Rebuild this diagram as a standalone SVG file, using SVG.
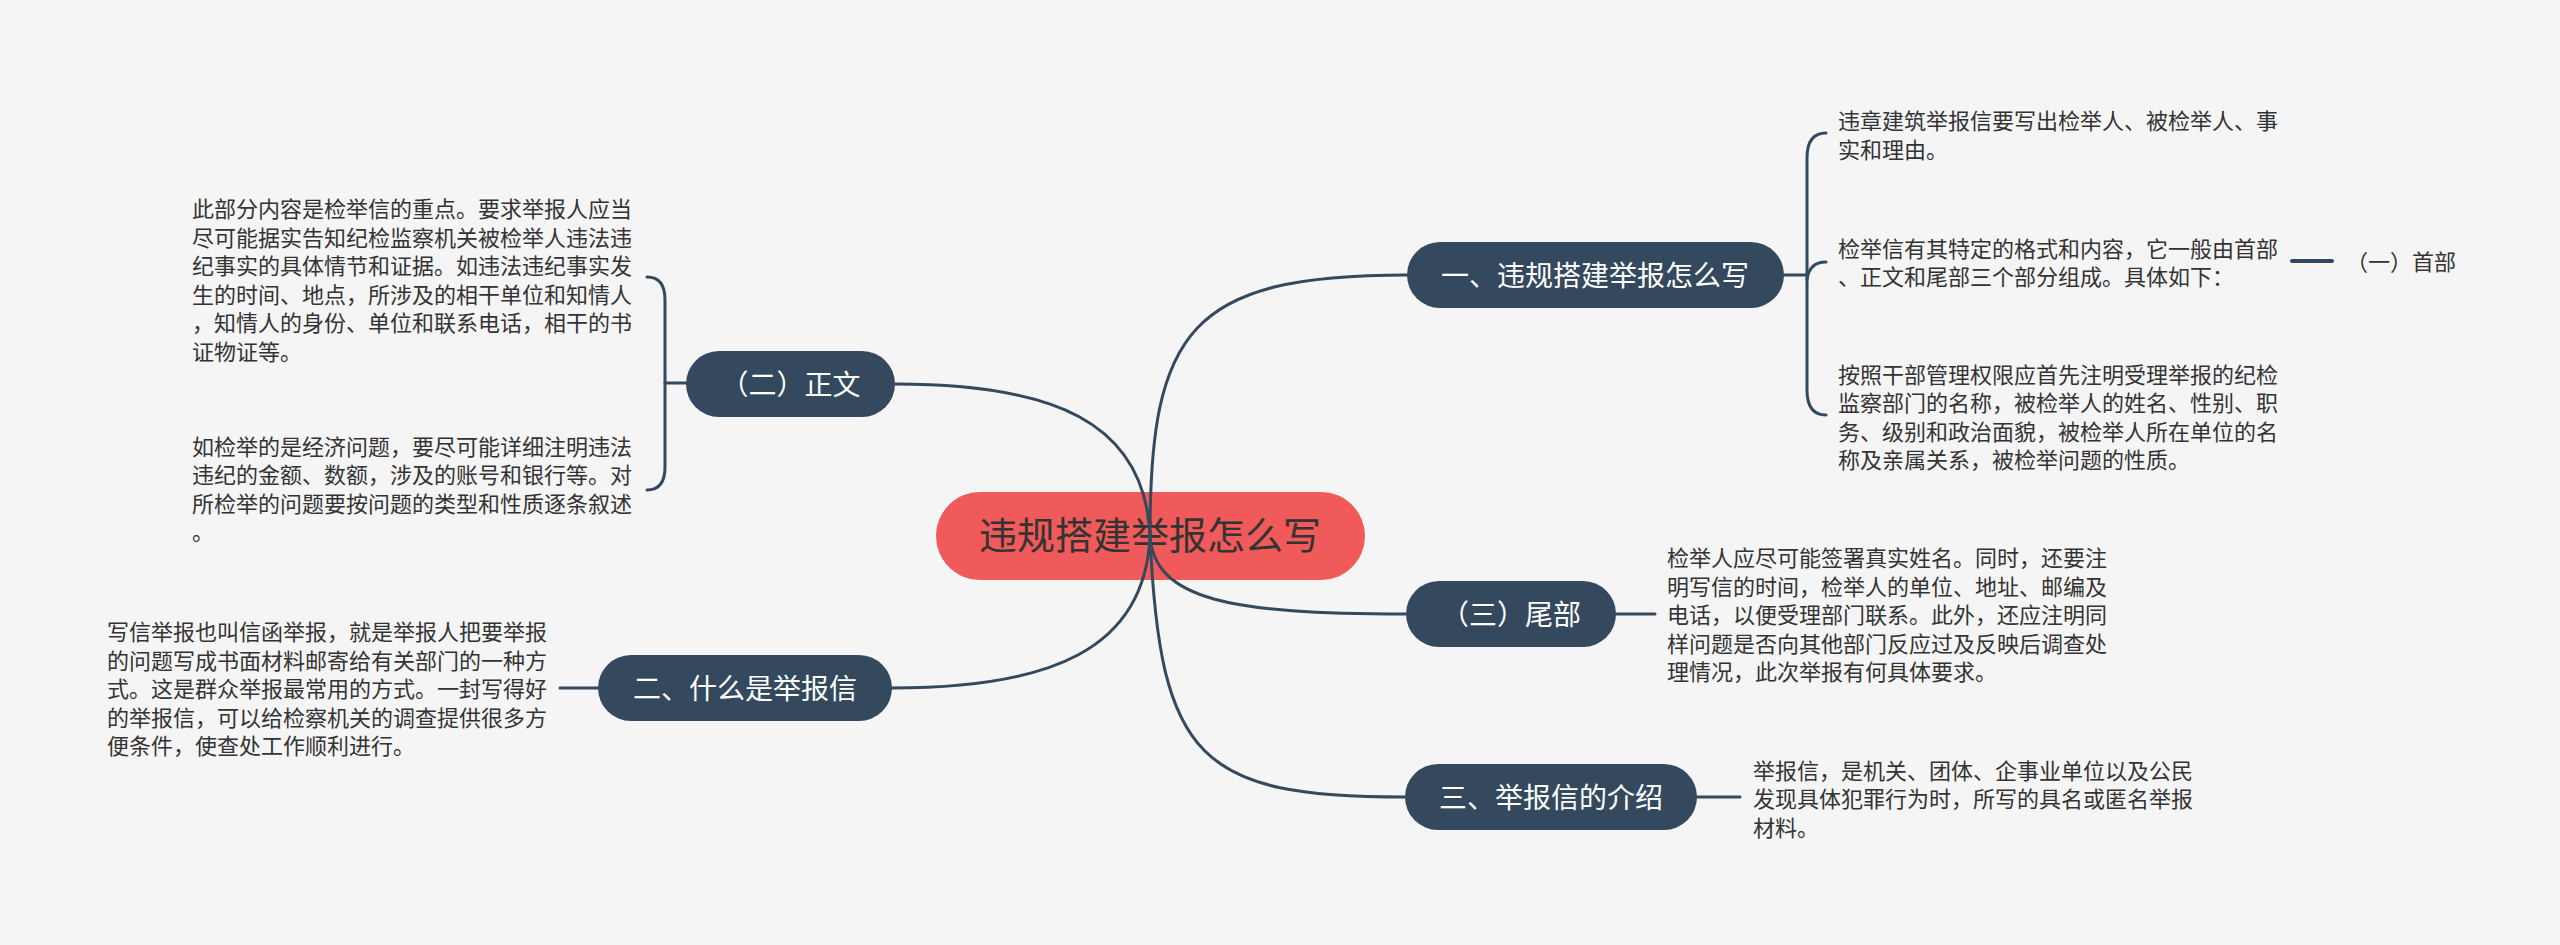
<svg xmlns="http://www.w3.org/2000/svg" width="2560" height="945" viewBox="0 0 2560 945">
<style>
.bg{fill:#F5F5F5}
.conn{fill:none;stroke:#34495E;stroke-width:3;stroke-linecap:round}
.node{fill:#34495E}
.root{fill:#F05A5A}
.nt{font-family:"Noto Sans CJK SC",sans-serif;font-size:28px;fill:#FFFFFF;text-anchor:middle}
.rt{font-family:"Noto Sans CJK SC",sans-serif;font-size:38px;fill:#333333;text-anchor:middle}
.body{font-family:"Noto Sans CJK SC",sans-serif;font-size:22px;fill:#333333}
</style>
<rect class="bg" x="0" y="0" width="2560" height="945"/>

<g id="root">
<rect class="root" x="936" y="492" width="429" height="88" rx="44"/>
<text class="rt" x="1150" y="549">违规搭建举报怎么写</text>
</g>

<g id="connectors">
<path class="conn" d="M1150,536 C1150,330 1190,275 1407,275"/>
<path class="conn" d="M1150,536 C1155,600 1230,614 1406,614"/>
<path class="conn" d="M1150,536 C1160,760 1200,797 1405,797"/>
<path class="conn" d="M1150,536 C1145,650 1050,688 892,688"/>
<path class="conn" d="M1150,536 C1145,420 1050,384 895,384"/>
<path class="conn" d="M1784,275 L1807,275"/>
<path class="conn" d="M1826,133 Q1807,133 1807,158 L1807,390 Q1807,415 1826,415"/>
<path class="conn" d="M1807,280 Q1809,262 1826,262"/>
<path class="conn" d="M2292,261 L2332,261" style="stroke-width:4"/>
<path class="conn" d="M1616,614 L1655,614"/>
<path class="conn" d="M1697,797 L1740,797"/>
<path class="conn" d="M598,688 L560,688"/>
<path class="conn" d="M686,383 L665,383"/>
<path class="conn" d="M647,277 Q665,277 665,300 L665,467 Q665,490 647,490"/>
</g>

<g id="node-1">
<rect class="node" x="1407" y="242" width="377" height="66" rx="33"/>
<text class="nt" x="1595" y="285.5">一、违规搭建举报怎么写</text>
</g>
<g id="node-1-text1">
<text class="body" x="1838" y="129.2"><tspan x="1838">违章建筑举报信要写出检举人、被检举人、事</tspan><tspan x="1838" dy="28.5">实和理由。</tspan></text>
</g>
<g id="node-1-text2">
<text class="body" x="1838" y="256.7"><tspan x="1838">检举信有其特定的格式和内容，它一般由首部</tspan><tspan x="1838" dy="28.5">、正文和尾部三个部分组成。具体如下：</tspan></text>
</g>
<g id="node-1-text3">
<text class="body" x="1838" y="382.7"><tspan x="1838">按照干部管理权限应首先注明受理举报的纪检</tspan><tspan x="1838" dy="28.5">监察部门的名称，被检举人的姓名、性别、职</tspan><tspan x="1838" dy="28.5">务、级别和政治面貌，被检举人所在单位的名</tspan><tspan x="1838" dy="28.5">称及亲属关系，被检举问题的性质。</tspan></text>
</g>
<g id="node-shoubu">
<text class="body" x="2346" y="270">（一）首部</text>
</g>

<g id="node-weibu">
<rect class="node" x="1406" y="581" width="210" height="66" rx="33"/>
<text class="nt" x="1511" y="624.5">（三）尾部</text>
</g>
<g id="node-weibu-text">
<text class="body" x="1667" y="566.4"><tspan x="1667">检举人应尽可能签署真实姓名。同时，还要注</tspan><tspan x="1667" dy="28.5">明写信的时间，检举人的单位、地址、邮编及</tspan><tspan x="1667" dy="28.5">电话，以便受理部门联系。此外，还应注明同</tspan><tspan x="1667" dy="28.5">样问题是否向其他部门反应过及反映后调查处</tspan><tspan x="1667" dy="28.5">理情况，此次举报有何具体要求。</tspan></text>
</g>

<g id="node-3">
<rect class="node" x="1405" y="764" width="292" height="66" rx="33"/>
<text class="nt" x="1551" y="807.5">三、举报信的介绍</text>
</g>
<g id="node-3-text">
<text class="body" x="1753" y="778.9"><tspan x="1753">举报信，是机关、团体、企事业单位以及公民</tspan><tspan x="1753" dy="28.5">发现具体犯罪行为时，所写的具名或匿名举报</tspan><tspan x="1753" dy="28.5">材料。</tspan></text>
</g>

<g id="node-2">
<rect class="node" x="598" y="655" width="294" height="66" rx="33"/>
<text class="nt" x="745" y="698.5">二、什么是举报信</text>
</g>
<g id="node-2-text">
<text class="body" x="107" y="640.4"><tspan x="107">写信举报也叫信函举报，就是举报人把要举报</tspan><tspan x="107" dy="28.5">的问题写成书面材料邮寄给有关部门的一种方</tspan><tspan x="107" dy="28.5">式。这是群众举报最常用的方式。一封写得好</tspan><tspan x="107" dy="28.5">的举报信，可以给检察机关的调查提供很多方</tspan><tspan x="107" dy="28.5">便条件，使查处工作顺利进行。</tspan></text>
</g>

<g id="node-zhengwen">
<rect class="node" x="686" y="351" width="209" height="66" rx="33"/>
<text class="nt" x="790.5" y="394.5">（二）正文</text>
</g>
<g id="node-zhengwen-text1">
<text class="body" x="192" y="217.2"><tspan x="192">此部分内容是检举信的重点。要求举报人应当</tspan><tspan x="192" dy="28.5">尽可能据实告知纪检监察机关被检举人违法违</tspan><tspan x="192" dy="28.5">纪事实的具体情节和证据。如违法违纪事实发</tspan><tspan x="192" dy="28.5">生的时间、地点，所涉及的相干单位和知情人</tspan><tspan x="192" dy="28.5">，知情人的身份、单位和联系电话，相干的书</tspan><tspan x="192" dy="28.5">证物证等。</tspan></text>
</g>
<g id="node-zhengwen-text2">
<text class="body" x="192" y="454.6"><tspan x="192">如检举的是经济问题，要尽可能详细注明违法</tspan><tspan x="192" dy="28.5">违纪的金额、数额，涉及的账号和银行等。对</tspan><tspan x="192" dy="28.5">所检举的问题要按问题的类型和性质逐条叙述</tspan><tspan x="192" dy="28.5">。</tspan></text>
</g>
</svg>
